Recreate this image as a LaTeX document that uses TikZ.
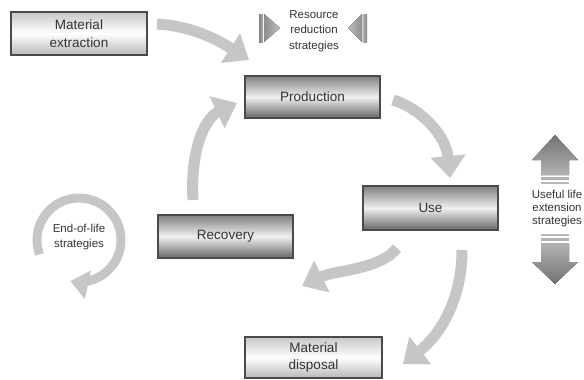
\documentclass[tikz,border=0pt]{standalone}
\usepackage{fontspec}
\setmainfont{Liberation Sans}
\usetikzlibrary{arrows.meta}
\definecolor{txt}{HTML}{333333}
\definecolor{arr}{HTML}{C6C6C6}
\definecolor{edgec}{HTML}{4A4A4A}
\begin{document}
\begin{tikzpicture}[x=1pt,y=-1pt,
  boxbase/.style={draw=edgec, line width=1.1pt, minimum width=135pt, minimum height=42pt, text=txt, font=\fontsize{13.5}{17.5}\selectfont, align=center, inner sep=0pt},
  darkbox/.style={boxbase, top color=black!50, bottom color=black!60, middle color=black!6},
  lightbox/.style={boxbase, top color=black!22, bottom color=black!28, middle color=white},
  flowarrow/.style={draw=arr, line width=11pt, -{Triangle[width=34pt,length=22pt]}},
  label/.style={text=txt, align=center, inner sep=0pt}
]
\useasboundingbox (0,0) rectangle (584,380);
% boxes
\node[lightbox, minimum width=136pt, minimum height=43pt] (extr) at (79,33.5) {Material\\extraction};
\node[darkbox] (prod) at (312.5,97) {Production};
\node[darkbox, minimum height=44pt] (use) at (430.5,208) {Use};
\node[darkbox, minimum height=43pt] (rec) at (225.5,236.5) {Recovery};
\node[lightbox, minimum width=137pt, minimum height=41pt] (disp) at (313.5,357.5) {Material\\disposal};
% labels
\node[label, font=\fontsize{11.5}{15.5}\selectfont] (resred) at (314,31) {Resource\\reduction\\strategies};
\node[label, font=\fontsize{11.5}{13}\selectfont] (useful) at (557,209) {Useful life\\extension\\strategies};
\node[label, font=\fontsize{11.5}{15}\selectfont] (eol) at (79,237) {End-of-life\\strategies};
% connector end points
\coordinate (a1s) at (157,24);   \coordinate (a1e) at (249,60);
\coordinate (a2s) at (393,100);  \coordinate (a2e) at (450,178);
\coordinate (a3s) at (397,248);  \coordinate (a3e) at (302,286);
\coordinate (a4s) at (462,250);  \coordinate (a4e) at (403,364);
\coordinate (a5s) at (193,200);  \coordinate (a5e) at (237,103);
% flow arrows
\draw[flowarrow] (a1s) .. controls (190,26) and (215,38) .. (a1e);
\draw[flowarrow] (a2s) .. controls (420,108) and (446,135) .. (a2e);
\draw[flowarrow] (a3s) .. controls (380,270) and (335,270) .. (a3e);
\draw[flowarrow] (a4s) .. controls (462,300) and (440,335) .. (a4e);
\draw[flowarrow] (a5s) .. controls (190,150) and (205,118) .. (a5e);
% end-of-life loop
\draw[draw=arr, line width=9pt, -{Triangle[width=28pt,length=18pt]}] (79,240) ++(160:42) arc[start angle=160, end angle=462, radius=42];
% resource reduction markers
\fill[left color=black!50, right color=black!30] (259,14) rectangle (263,42);
\fill[left color=black!45, right color=black!25] (264,14) -- (280,28) -- (264,42) -- cycle;
\fill[right color=black!50, left color=black!30] (363,14) rectangle (367,42);
\fill[right color=black!45, left color=black!25] (362,14) -- (348,28) -- (362,42) -- cycle;
% useful life arrows
\fill[top color=black!55, bottom color=black!30] (555,135) -- (578,160) -- (569,160) -- (569,175) -- (541,175) -- (541,160) -- (532,160) -- cycle;
\fill[black!30] (541,177) rectangle (569,180);
\fill[black!28] (541,182) rectangle (569,184);
\fill[black!28] (541,234) rectangle (569,236);
\fill[black!30] (541,238) rectangle (569,241);
\fill[bottom color=black!55, top color=black!30] (555,284) -- (578,262) -- (569,262) -- (569,243) -- (541,243) -- (541,262) -- (532,262) -- cycle;
\end{tikzpicture}
\end{document}
